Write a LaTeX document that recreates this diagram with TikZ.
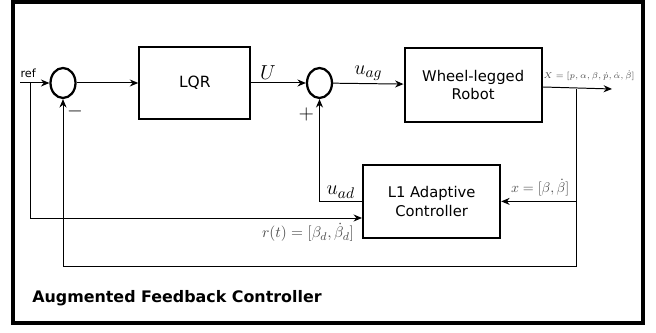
\documentclass[tikz,border=0pt]{standalone}
\usepackage{fontspec}
\setsansfont{DejaVu Sans}
\usepackage{amsmath}
\usetikzlibrary{positioning, arrows.meta, shapes.geometric}

\begin{document}
\begin{tikzpicture}[
  node distance=1.5cm,
  block/.style={draw, line width=1.6pt, minimum width=3.425cm, minimum height=1.85cm, align=center, font=\sffamily\fontsize{10.5}{13}\selectfont},
  sumnode/.style={draw, ellipse, line width=1.6pt, minimum width=0.625cm, minimum height=0.75cm, inner sep=0pt},
  sig/.style={line width=0.7pt, -{Stealth[length=6pt, width=5pt]}},
  lbl/.style={font=\fontsize{15.5}{17}\selectfont, inner sep=2pt}
]
  \useasboundingbox (0,0) rectangle (16.4,8.325);
  \draw[line width=2.2pt] (0.325,0.25) rectangle (16.075,8.275);

  % forward path
  \node[sumnode] (sum1) at (1.575,6.25) {};
  \node[block, minimum width=2.775cm, minimum height=1.8cm, right=1.54cm of sum1, font=\sffamily\fontsize{11}{13}\selectfont] (lqr) {LQR};
  \node[sumnode, right=1.36cm of lqr] (sum2) {};
  \node[block, right=1.76cm of sum2, yshift=-0.05cm] (robot) {Wheel-legged\\Robot};
  \node[block, minimum height=1.825cm] (l1) at (10.79,3.29) {L1 Adaptive\\Controller};

  \coordinate (refin) at (0.5,6.25);
  \coordinate (refsplit) at (0.75,6.25);
  \coordinate (rcorner) at (0.75,2.875);
  \coordinate (out) at (15.3,6.1);
  \coordinate (xsplit) at (14.4,6.1);
  \coordinate (fbcorner) at (14.4,1.675);

  \draw[sig] (refin) -- node[above, pos=0.28, font=\sffamily\footnotesize] {ref} (sum1);
  \draw[sig] (sum1) -- (lqr);
  \draw[sig] (lqr) -- node[lbl, above, pos=0.3] {$U$} (sum2);
  \draw[sig] (sum2) -- node[lbl, above] {$u_{ag}$} (robot);
  \draw[sig] ([yshift=-0.05cm]robot.east) -- node[above=2pt, pos=0.67, font=\fontsize{6.2}{7}\selectfont, text=black!70] {$X=[p,\alpha,\beta,\dot{p},\dot{\alpha},\dot{\beta}]$} (out);

  % adaptive loop
  \draw[sig] (xsplit) |- node[above, pos=0.74, text=black!70] {$x=[\beta,\dot{\beta}]$} (l1.east);
  \draw[sig] (l1.west) -| node[lbl, above, pos=0.25] {$u_{ad}$} (sum2.south);
  \draw[sig] (refsplit) -- (rcorner) -- node[below left, pos=1, xshift=-2pt, text=black!70, font=\fontsize{11.2}{13}\selectfont] {$r(t)=[\beta_d,\dot{\beta}_d]$} (l1.west |- rcorner);

  % state feedback
  \draw[sig] (xsplit) -- (fbcorner) -| (sum1.south);

  \node[font=\Large] (minus) at ([xshift=0.3cm, yshift=-0.3cm]sum1.south) {$-$};
  \node[font=\Large] (plus) at ([xshift=-0.33cm, yshift=-0.38cm]sum2.south) {$+$};

  \node[anchor=west, inner sep=0pt, font=\sffamily\bfseries\fontsize{11.3}{13}\selectfont] (title) at (0.8,0.875) {Augmented Feedback Controller};
\end{tikzpicture}
\end{document}
